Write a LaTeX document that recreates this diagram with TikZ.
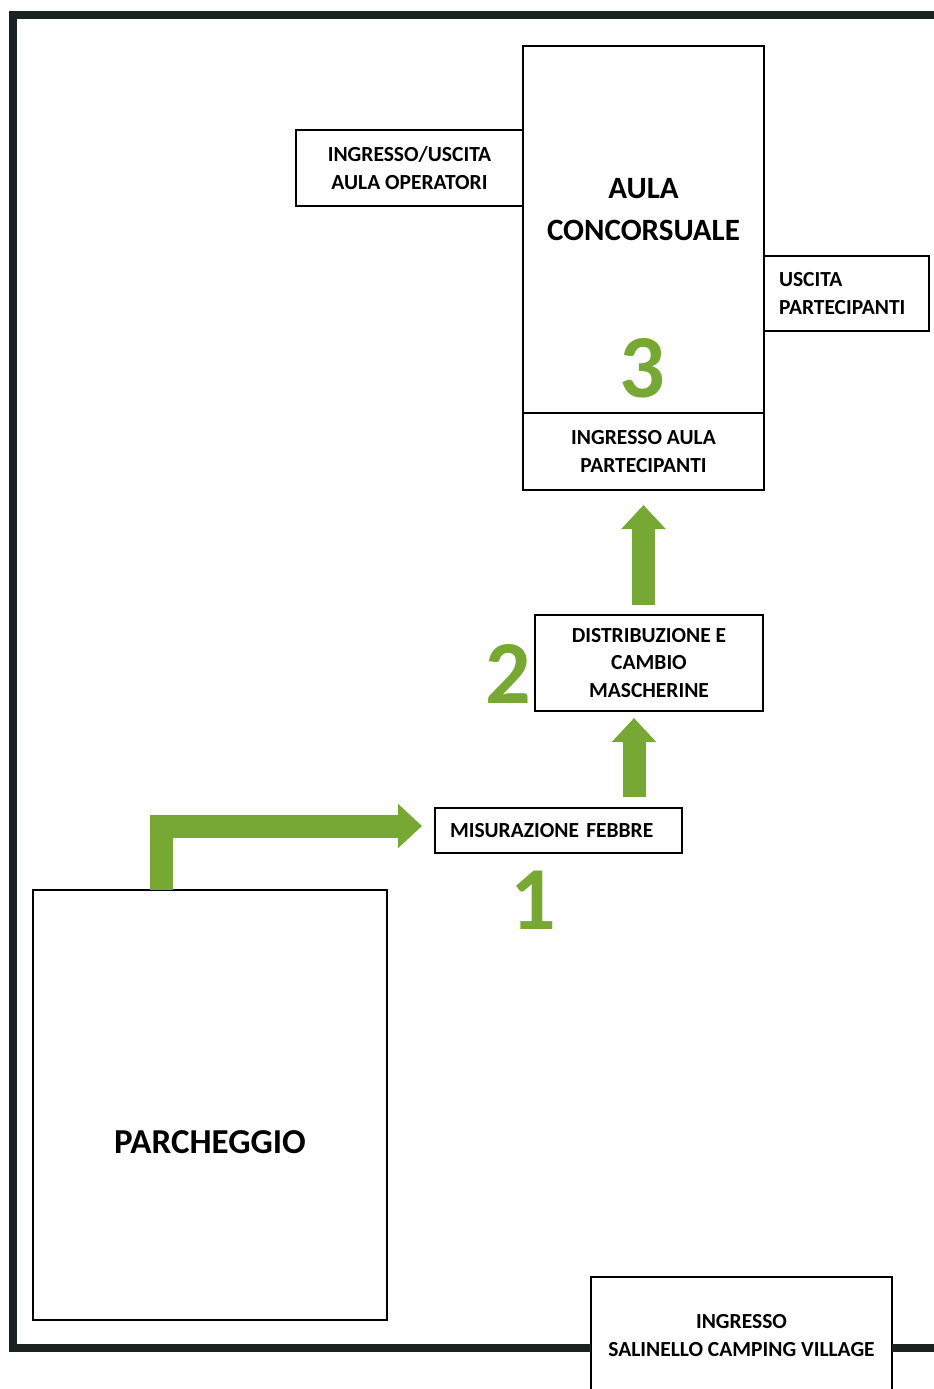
\documentclass[tikz,border=0pt]{standalone}
\usepackage{fontspec}
\setmainfont{Carlito}
\usetikzlibrary{positioning, arrows.meta}
\definecolor{flowgreen}{RGB}{120,168,52}
\definecolor{walldark}{RGB}{28,34,34}
\tikzset{
x=1pt, y=-1pt, % pixel coordinates, y pointing down
box/.style={draw, line width=1.3pt, inner sep=0pt, outer sep=0pt, align=center, font=\bfseries\fontsize{21.5}{27.5}\selectfont}, % every room / point
bigtext/.style={inner sep=0pt, align=center, font=\bfseries\fontsize{31}{42}\selectfont},
stepnum/.style={inner sep=0pt, text=flowgreen, font=\bfseries\fontsize{90}{90}\selectfont}, % the green numbers
flow/.style={draw=flowgreen, line width=23pt, line join=miter, -{Triangle[width=43pt,length=24pt]}}, % the green arrows
wall/.style={draw=walldark, line width=8pt, line join=miter},
}

\begin{document}
\begin{tikzpicture}
    \useasboundingbox (0,0) rectangle (934,1389);
    % rooms
    \node[box, minimum width=241pt, minimum height=367pt] (aula) at (643.5,229.5) {};
    \node[bigtext] (aulatext) at (643.5,210) {AULA\\CONCORSUALE};
    \node[stepnum] (n3) at (642,368.5) {3};
    \node[box, below=0pt of aula, minimum width=241pt, minimum height=77pt] (aulain) {INGRESSO AULA\\PARTECIPANTI};
    \node[box, minimum width=227pt, minimum height=76pt] (oper) at (409.5,168) {INGRESSO/USCITA\\AULA OPERATORI};
    \node[box, minimum width=165pt, minimum height=75pt, text width=135pt, align=left] (uscita) at (846.5,293.5) {USCITA\\PARTECIPANTI};
    \node[box, minimum width=228pt, minimum height=96pt] (distrib) at (649,663) {DISTRIBUZIONE E\\CAMBIO\\MASCHERINE};
    \node[stepnum] (n2) at (508,673.5) {2};
    \node[box, minimum width=247pt, minimum height=45pt, text width=217pt, align=left] (misura) at (558.5,830.5) {MISURAZIONE FEBBRE};
    \node[stepnum] (n1) at (533,900) {1};
    \node[box, minimum width=354pt, minimum height=430pt] (park) at (210,1105) {};
    \node[bigtext, font=\bfseries\fontsize{35}{42}\selectfont] (parktext) at (210,1142) {PARCHEGGIO};
    \node[box, minimum width=301pt, minimum height=117pt] (gate) at (741.5,1335.5) {INGRESSO\\SALINELLO CAMPING VILLAGE};
    % outer wall
    \draw[wall] (940,15) -- (13,15) -- (13,1348) -- (gate.west |- 0,1348);
    \draw[wall] (gate.east |- 0,1348) -- (940,1348);
    % path of the participants
    \coordinate (up2) at ([xshift=-15pt]distrib.south);
    \draw[flow] ([xshift=128pt]park.north west) |- ([xshift=-13pt, yshift=4.5pt]misura.west);
    \draw[flow, shorten <=11pt, shorten >=7pt] (up2 |- misura.north) -- (up2);
    \draw[flow, shorten <=10pt, shorten >=15pt] (distrib.north -| aulain.south) -- (aulain.south);
\end{tikzpicture}
\end{document}
